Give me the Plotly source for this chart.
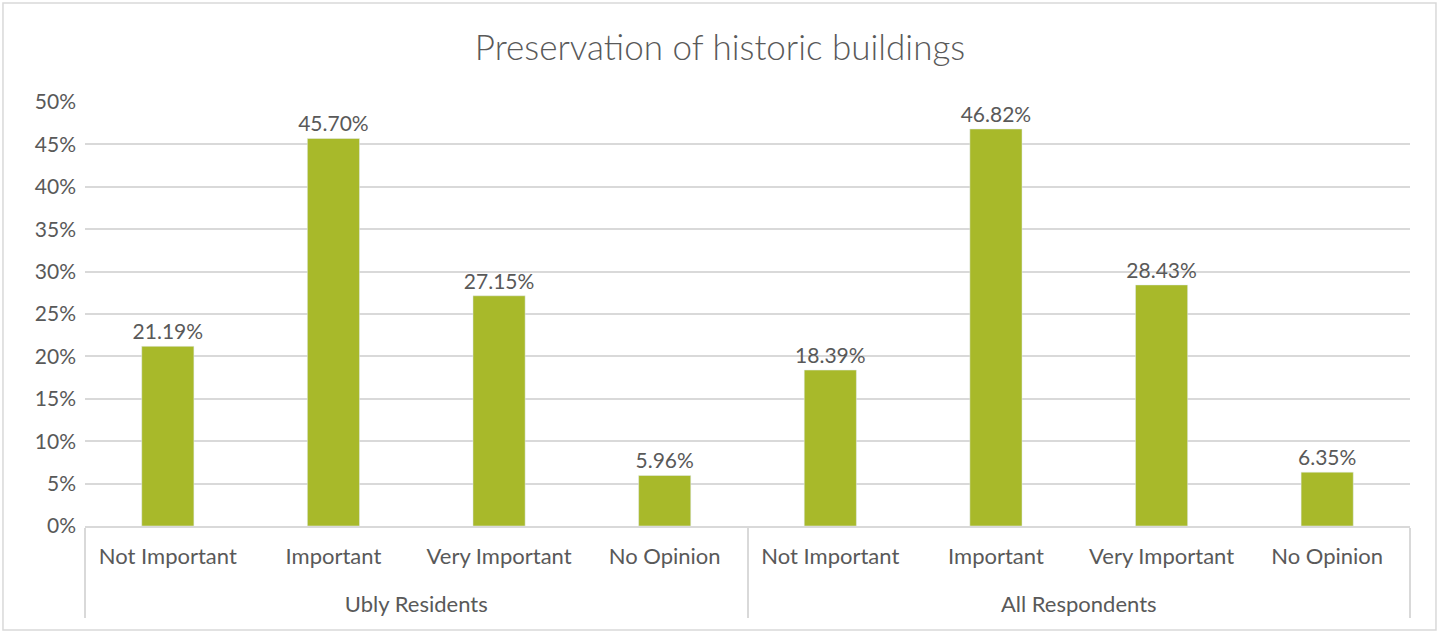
import plotly.graph_objects as go

groups = ["Ubly Residents"] * 4 + ["All Respondents"] * 4
answers = ["Not Important", "Important", "Very Important", "No Opinion"] * 2
shares = [0.2119, 0.4570, 0.2715, 0.0596, 0.1839, 0.4682, 0.2843, 0.0635]
y_ticks = [0, 0.05, 0.10, 0.15, 0.20, 0.25, 0.30, 0.35, 0.40, 0.45, 0.50]

grey = "#595959"
fnt = "Lato, Open Sans, sans-serif"

# push the group row down a line, like Excel's spacing
group_labels = ["<br>" + g for g in groups]

fig = go.Figure(go.Bar(
    x=[group_labels, answers], y=shares,
    marker_color="#a8b92a",
    texttemplate="%{y:.2%}", textposition="outside",
    textfont=dict(size=21, color=grey, family=fnt),
    constraintext="none",
    cliponaxis=False,
))

fig.update_layout(
    width=1440, height=632,
    margin=dict(l=85, r=30, t=102, b=106),
    paper_bgcolor="white", plot_bgcolor="white",
    bargap=0.685,
    showlegend=False,
    title=dict(text="Preservation of historic buildings", x=0.5, xanchor="center",
               y=0.925, yanchor="middle",
               font=dict(size=35, color=grey, family=fnt, weight=300)),
    font=dict(family=fnt, color=grey),
)
fig.update_yaxes(range=[0, 0.5], tickvals=y_ticks, tickformat=".0%",
                 gridcolor="#d9d9d9", gridwidth=1.5, zeroline=False,
                 tickfont=dict(size=21, color=grey), ticks="",
                 ticklabelstandoff=8, showline=False)
fig.update_xaxes(showline=True, linecolor="#d9d9d9", linewidth=2,
                 showdividers=True, dividercolor="#d9d9d9", dividerwidth=2,
                 tickfont=dict(size=22, color=grey), ticks="",
                 ticklabelstandoff=10)

# chart border
fig.add_shape(type="rect", xref="paper", yref="paper",
              x0=-0.0619, x1=1.0196, y0=-0.245, y1=1.2335,
              line=dict(color="#d9d9d9", width=1.5))

fig.write_html("out.html", config={"displayModeBar": False},
               post_script="document.body.style.margin='0';")
